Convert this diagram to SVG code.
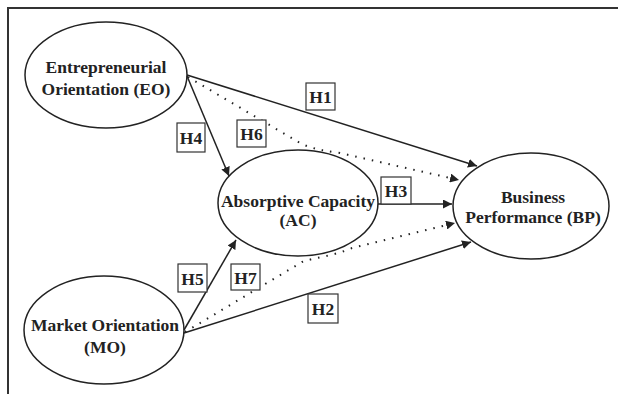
<svg xmlns="http://www.w3.org/2000/svg" width="618" height="394" viewBox="0 0 618 394">
<style>
.node{fill:#fff;stroke:#222;stroke-width:1.5}
.lbl{font-family:"Liberation Serif","Times New Roman",serif;font-weight:bold;font-size:17.5px;fill:#222;text-anchor:middle}
.box{fill:#fff;stroke:#333;stroke-width:1.2}
.solid{stroke:#222;stroke-width:1.5;fill:none}
.dot{stroke:#222;stroke-width:2;fill:none;stroke-dasharray:1.5 7}
</style>
<defs>
<marker id="ah" viewBox="0 0 10 10" refX="10" refY="5" markerWidth="6" markerHeight="6" orient="auto" markerUnits="strokeWidth">
<path d="M0,0 L10,5 L0,10 z" fill="#222"/>
</marker>
<marker id="ahd" viewBox="0 0 10 10" refX="10" refY="5" markerWidth="4.5" markerHeight="4.5" orient="auto" markerUnits="strokeWidth">
<path d="M0,0 L10,5 L0,10 z" fill="#222"/>
</marker>
</defs>
<rect width="618" height="394" fill="#fff"/>
<path d="M8,394 L8,8 L618,8" fill="none" stroke="#333" stroke-width="2"/>
<g id="EO">
<ellipse class="node" cx="106" cy="75" rx="81" ry="53"/>
<text class="lbl" x="106" y="73">Entrepreneurial</text>
<text class="lbl" x="106" y="95">Orientation (EO)</text>
</g>
<g id="AC">
<ellipse class="node" cx="298" cy="203" rx="80" ry="53"/>
<text class="lbl" x="298" y="207">Absorptive Capacity</text>
<text class="lbl" x="298" y="226">(AC)</text>
</g>
<g id="BP">
<ellipse class="node" cx="531" cy="206" rx="78" ry="53"/>
<text class="lbl" x="533" y="203">Business</text>
<text class="lbl" x="533" y="223">Performance (BP)</text>
</g>
<g id="MO">
<ellipse class="node" cx="104" cy="330" rx="80" ry="54"/>
<text class="lbl" x="105" y="331">Market Orientation</text>
<text class="lbl" x="105" y="353">(MO)</text>
</g>
<g id="connectors">
<line class="solid" x1="187" y1="75" x2="477" y2="166" marker-end="url(#ah)"/>
<path class="dot" d="M188,77 L300,143 C312,149 325,151 340,153 L459,180" marker-end="url(#ahd)"/>
<line class="solid" x1="187" y1="76" x2="229" y2="176" marker-end="url(#ah)"/>
<line class="solid" x1="378" y1="204" x2="452" y2="204" marker-end="url(#ah)"/>
<line class="solid" x1="184" y1="330" x2="236" y2="240" marker-end="url(#ah)"/>
<path class="dot" d="M185,332 L302,262 C316,257 334,256 352,248 L455,223" marker-end="url(#ahd)"/>
<line class="solid" x1="184" y1="333" x2="471" y2="242" marker-end="url(#ah)"/>
</g>
<g id="H1"><rect class="box" x="306" y="83" width="29" height="27"/><text class="lbl" x="320.5" y="102.5">H1</text></g>
<g id="H4"><rect class="box" x="177" y="123" width="28" height="29"/><text class="lbl" x="191" y="143.5">H4</text></g>
<g id="H6"><rect class="box" x="237" y="120" width="29" height="27"/><text class="lbl" x="251.5" y="139.5">H6</text></g>
<g id="H3"><rect class="box" x="381" y="177" width="30" height="27"/><text class="lbl" x="396" y="196.5">H3</text></g>
<g id="H5"><rect class="box" x="178" y="264" width="29" height="28"/><text class="lbl" x="192.5" y="284.5">H5</text></g>
<g id="H7"><rect class="box" x="231" y="264" width="29" height="26"/><text class="lbl" x="245.5" y="283.5">H7</text></g>
<g id="H2"><rect class="box" x="308" y="294" width="30" height="29"/><text class="lbl" x="323" y="314.5">H2</text></g>
</svg>
